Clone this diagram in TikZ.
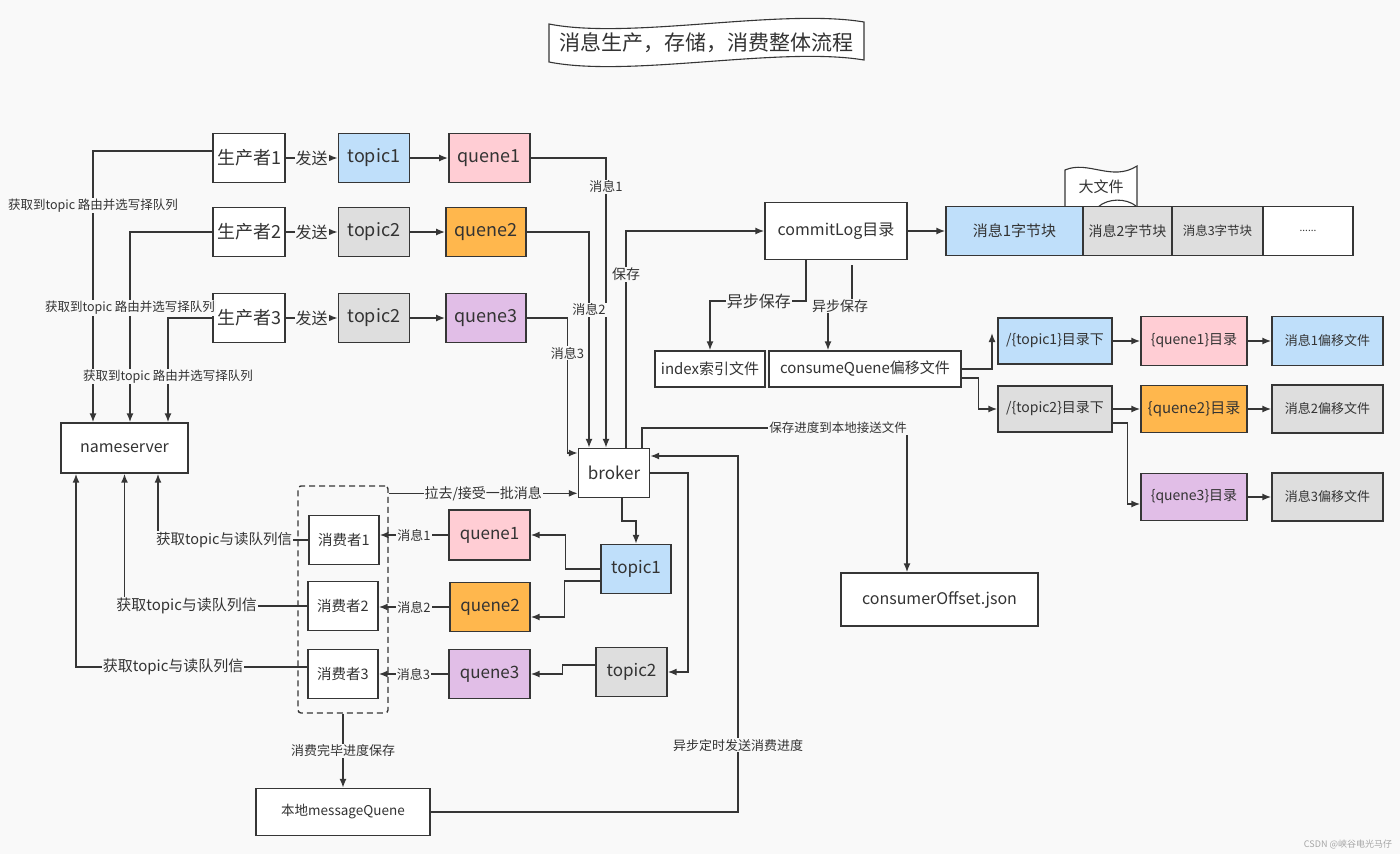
\documentclass[tikz,border=0pt]{standalone}
\usepackage{fontspec}
\setmainfont{Noto Sans CJK SC}
\usepackage{xcolor}
\usepackage{tikz}
\usetikzlibrary{arrows.meta, positioning, calc}
\definecolor{bgc}{HTML}{F9F9F9}
\definecolor{linec}{HTML}{363636}
\definecolor{txtc}{HTML}{333333}
\definecolor{topicblue}{HTML}{BFDFFA}
\definecolor{quenepink}{HTML}{FFCDD4}
\definecolor{queneorange}{HTML}{FFB74D}
\definecolor{quenelilac}{HTML}{E1BEE7}
\definecolor{filegray}{HTML}{DEDEDE}
\newcommand{\fsz}[1]{\fontsize{#1pt}{#1pt}\selectfont}

\begin{document}
\begin{tikzpicture}[
    x=1pt, y=-1pt,
    box/.style={draw=linec, line width=1.4pt, fill=white, text=txtc, inner sep=0pt},
    sz/.style 2 args={minimum width=#1pt, minimum height=#2pt},
    tbox/.style={box, fill=topicblue},
    pbox/.style={box, fill=quenepink},
    obox/.style={box, fill=queneorange},
    lbox/.style={box, fill=quenelilac},
    gbox/.style={box, fill=filegray},
    grpbox/.style={draw=linec, line width=1.4pt, dash pattern=on 6pt off 4pt, rounded corners=3pt, inner sep=0pt},
    arrow/.style={draw=linec, line width=1.5pt, -{Latex[length=9pt,width=7pt]}},
    wire/.style={draw=linec, line width=1.1pt},
    lab/.style={fill=bgc, text=txtc, inner sep=1pt}
]

\fill[bgc] (0,0) rectangle (1400,854);
\useasboundingbox (0,0) rectangle (1400,854);

\draw[wire, fill=white] (549,24) .. controls (630,40) and (780,8) .. (864,22) -- (864,60) .. controls (780,46) and (630,78) .. (549,62) -- cycle;
\node[text=txtc, font=\fsz{21}] (title) at (706,43) {消息生产，存储，消费整体流程};

\node[box, sz={72}{49}, font=\fsz{18}] (prod1) at (249,158) {生产者1};
\node[box, sz={72}{49}, font=\fsz{18}] (prod2) at (249,232) {生产者2};
\node[box, sz={72}{49}, font=\fsz{18}] (prod3) at (249,318) {生产者3};
\node[tbox, sz={71}{49}, font=\fsz{18}, right=52pt of prod1] (topic1) {topic1};
\node[gbox, sz={71}{49}, font=\fsz{18}, right=52pt of prod2] (topic2) {topic2};
\node[gbox, sz={71}{49}, font=\fsz{18}, right=52pt of prod3] (topic3) {topic2};
\node[pbox, sz={81}{49}, font=\fsz{18}, right=38pt of topic1] (quene1) {quene1};
\node[obox, sz={80}{49}, font=\fsz{18}, right=35pt of topic2] (quene2) {quene2};
\node[lbox, sz={80}{49}, font=\fsz{18}, right=35pt of topic3] (quene3) {quene3};

\node[box, sz={127}{50}, font=\fsz{16}] (names) at (124.5,448) {nameserver};
\node[box, sz={71}{49}, font=\fsz{17}] (broker) at (614,473) {broker};

\node[grpbox, sz={90}{227}] (group) at (343,599.5) {};
\node[box, sz={70}{49}, font=\fsz{14.5}] (cons1) at (344,540) {消费者1};
\node[box, sz={70}{49}, font=\fsz{14.5}] (cons2) at (343,606) {消费者2};
\node[box, sz={70}{49}, font=\fsz{14.5}] (cons3) at (343,674) {消费者3};
\node[pbox, sz={81}{50}, font=\fsz{17}] (bquene1) at (489.5,535) {quene1};
\node[obox, sz={80}{49}, font=\fsz{17}] (bquene2) at (490,607) {quene2};
\node[lbox, sz={81}{49}, font=\fsz{17}] (bquene3) at (489.5,674) {quene3};
\node[tbox, sz={70}{49}, font=\fsz{17}] (btopic1) at (636,569) {topic1};
\node[gbox, sz={71}{49}, font=\fsz{17}] (btopic2) at (631.5,672) {topic2};
\node[box, sz={174}{47}, font=\fsz{13.5}] (local) at (343,812) {本地messageQuene};

\node[box, sz={142}{57}, font=\fsz{16}] (commit) at (836,231) {commitLog目录};
\draw[wire, fill=white] (1065,207) -- (1065,170) .. controls (1088,160) and (1112,182) .. (1137,166) -- (1137,207);
\draw[wire] (1098,207) .. controls (1108,198) and (1126,198) .. (1136,206);
\node[text=txtc, font=\fsz{15}] (bigfile) at (1101,187) {大文件};
\node[tbox, sz={137}{49}, font=\fsz{15}] (blk1) at (1014.5,231) {消息1字节块};
\node[gbox, sz={89}{49}, font=\fsz{14}] (blk2) at (1127.5,231) {消息2字节块};
\node[gbox, sz={91}{49}, font=\fsz{12.5}] (blk3) at (1217.5,231) {消息3字节块};
\node[box, sz={90}{49}, font=\fsz{10}] (blk4) at (1308,231) {......};

\node[box, sz={110}{36}, font=\fsz{15}] (index) at (710,369) {index索引文件};
\node[box, sz={192}{36}, font=\fsz{15}] (cq) at (865,369) {consumeQuene偏移文件};
\node[tbox, sz={114}{46}, font=\fsz{14}] (tdir1) at (1055,341) {/\{topic1\}目录下};
\node[gbox, sz={114}{46}, font=\fsz{14}] (tdir2) at (1055,409) {/\{topic2\}目录下};
\node[pbox, sz={106}{49}, font=\fsz{14}] (qdir1) at (1194,341) {\{quene1\}目录};
\node[obox, sz={106}{47}, font=\fsz{15}] (qdir2) at (1194,409) {\{quene2\}目录};
\node[lbox, sz={106}{47}, font=\fsz{14}] (qdir3) at (1194,497) {\{quene3\}目录};
\node[tbox, sz={111}{49}, font=\fsz{13}] (mfile1) at (1327.5,341) {消息1偏移文件};
\node[gbox, sz={111}{48}, font=\fsz{13}] (mfile2) at (1327.5,409) {消息2偏移文件};
\node[gbox, sz={111}{48}, font=\fsz{13}] (mfile3) at (1327.5,497) {消息3偏移文件};
\node[box, sz={197}{53}, font=\fsz{16}] (offset) at (939.5,599.5) {consumerOffset.json};

\node[text=gray!70, font=\fsz{9}] (mark) at (1348,844) {CSDN @峡谷电光马仔};

\draw[arrow] (prod1) -- node[lab, font=\fsz{16}] {发送} (topic1);
\draw[arrow] (prod2) -- node[lab, font=\fsz{16}] {发送} (topic2);
\draw[arrow] (prod3) -- node[lab, font=\fsz{16}] {发送} (topic3);
\draw[arrow] (topic1) -- (quene1);
\draw[arrow] (topic2) -- (quene2);
\draw[arrow] (topic3) -- (quene3);

\draw[arrow] ([yshift=7pt]prod1.west) -| node[lab, pos=0.6, font=\fsz{12.5}] {获取到topic 路由并选写择队列} ([xshift=-31.5pt]names.north);
\draw[arrow] (prod2.west) -| node[lab, pos=0.7, font=\fsz{12.5}] {获取到topic 路由并选写择队列} ([xshift=5.5pt]names.north);
\draw[arrow] (prod3.west) -| node[lab, pos=0.78, font=\fsz{12.5}] {获取到topic 路由并选写择队列} ([xshift=43.5pt]names.north);

\draw[arrow] (quene1) -| node[lab, pos=0.55, font=\fsz{13}] {消息1} ([xshift=-8pt]broker.north);
\draw[arrow] (quene2) -| node[lab, pos=0.68, font=\fsz{13}] {消息2} ([xshift=-25pt]broker.north);
\draw[arrow] (quene3.east) -- ++(41,0) |- node[lab, pos=0.13, font=\fsz{13}] {消息3} ([yshift=20pt]broker.west);

\draw[arrow] ([xshift=12pt]broker.north) |- node[lab, pos=0.40, font=\fsz{14}] {保存} (commit);
\coordinate (offtop) at (907,428);
\draw[arrow] ([xshift=28pt]broker.north) |- node[lab, pos=0.87, font=\fsz{12.5}] {保存进度到本地接送文件} (offtop) -- (offtop |- offset.north);
\coordinate (asyncc) at (738,812);
\draw[arrow] (local.east) -- (asyncc) |- node[lab, pos=0.094, font=\fsz{13}] {异步定时发送消费进度} ([yshift=17pt]broker.east);
\draw[arrow] (broker.east) -- ++(38,0) |- (btopic2);
\draw[arrow] ([xshift=8pt]broker.south) -- ++(0,23) -| (btopic1);

\draw[arrow] (btopic1.west) -- ++(-35,0) |- (bquene1);
\draw[arrow] ([yshift=-12pt]btopic1.west) -- ++(-36,0) |- ([yshift=-10pt]bquene2.east);
\draw[arrow] ([yshift=7pt]btopic2.west) -- ++(-33,0) |- (bquene3);

\draw[arrow] (bquene1.west) -- node[lab, font=\fsz{13}] {消息1} (bquene1.west -| cons1.east);
\draw[arrow] (bquene2.west) -- node[lab, font=\fsz{13}] {消息2} (bquene2.west -| cons2.east);
\draw[arrow] (bquene3.west) -- node[lab, font=\fsz{13}] {消息3} (bquene3.west -| cons3.east);

\coordinate (pull) at ([yshift=-8pt]group.north east);
\draw[arrow] (pull) -- node[lab, font=\fsz{14}] {拉去/接受一批消息} (pull -| broker.west);

\draw[arrow] (cons1.west) -| node[lab, pos=0.28, font=\fsz{14.5}] {获取topic与读队列信} ([xshift=33.5pt]names.south);
\draw[arrow] (cons2.west) -| node[lab, pos=0.33, font=\fsz{15}] {获取topic与读队列信} (names.south);
\draw[arrow] ([yshift=7pt]cons3.west) -| node[lab, pos=0.29, font=\fsz{15}] {获取topic与读队列信} ([xshift=-48.5pt]names.south);

\draw[arrow] (group) -- node[lab, font=\fsz{13}] {消费完毕进度保存} (local);

\draw[arrow] (commit) -- (blk1);
\draw[arrow] ([xshift=-30pt]commit.south) -- ++(0,41) -| node[lab, pos=0.245, font=\fsz{16}] {异步保存} (index);
\coordinate (cqjog) at (852,306);
\draw[arrow] ([xshift=16pt,yshift=-5pt]commit.south) -- (cqjog) -| node[lab, pos=0.25, font=\fsz{14}] {异步保存} ([xshift=-37pt]cq.north);

\coordinate (cqtip) at (992,333);
\draw[arrow] (cq.east) -| (cqtip);
\draw[arrow] ([yshift=-9pt]cq.east) -- ++(17,0) |- (tdir2);
\draw[arrow] (tdir1) -- (qdir1);
\draw[arrow] (qdir1) -- (mfile1);
\draw[arrow] (tdir2) -- (qdir2);
\draw[arrow] (qdir2) -- (mfile2);
\draw[arrow] ([yshift=-14pt]tdir2.east) -- ++(15,0) |- ([yshift=-7pt]qdir3.west);
\draw[arrow] (qdir3) -- (mfile3);

\end{tikzpicture}
\end{document}
